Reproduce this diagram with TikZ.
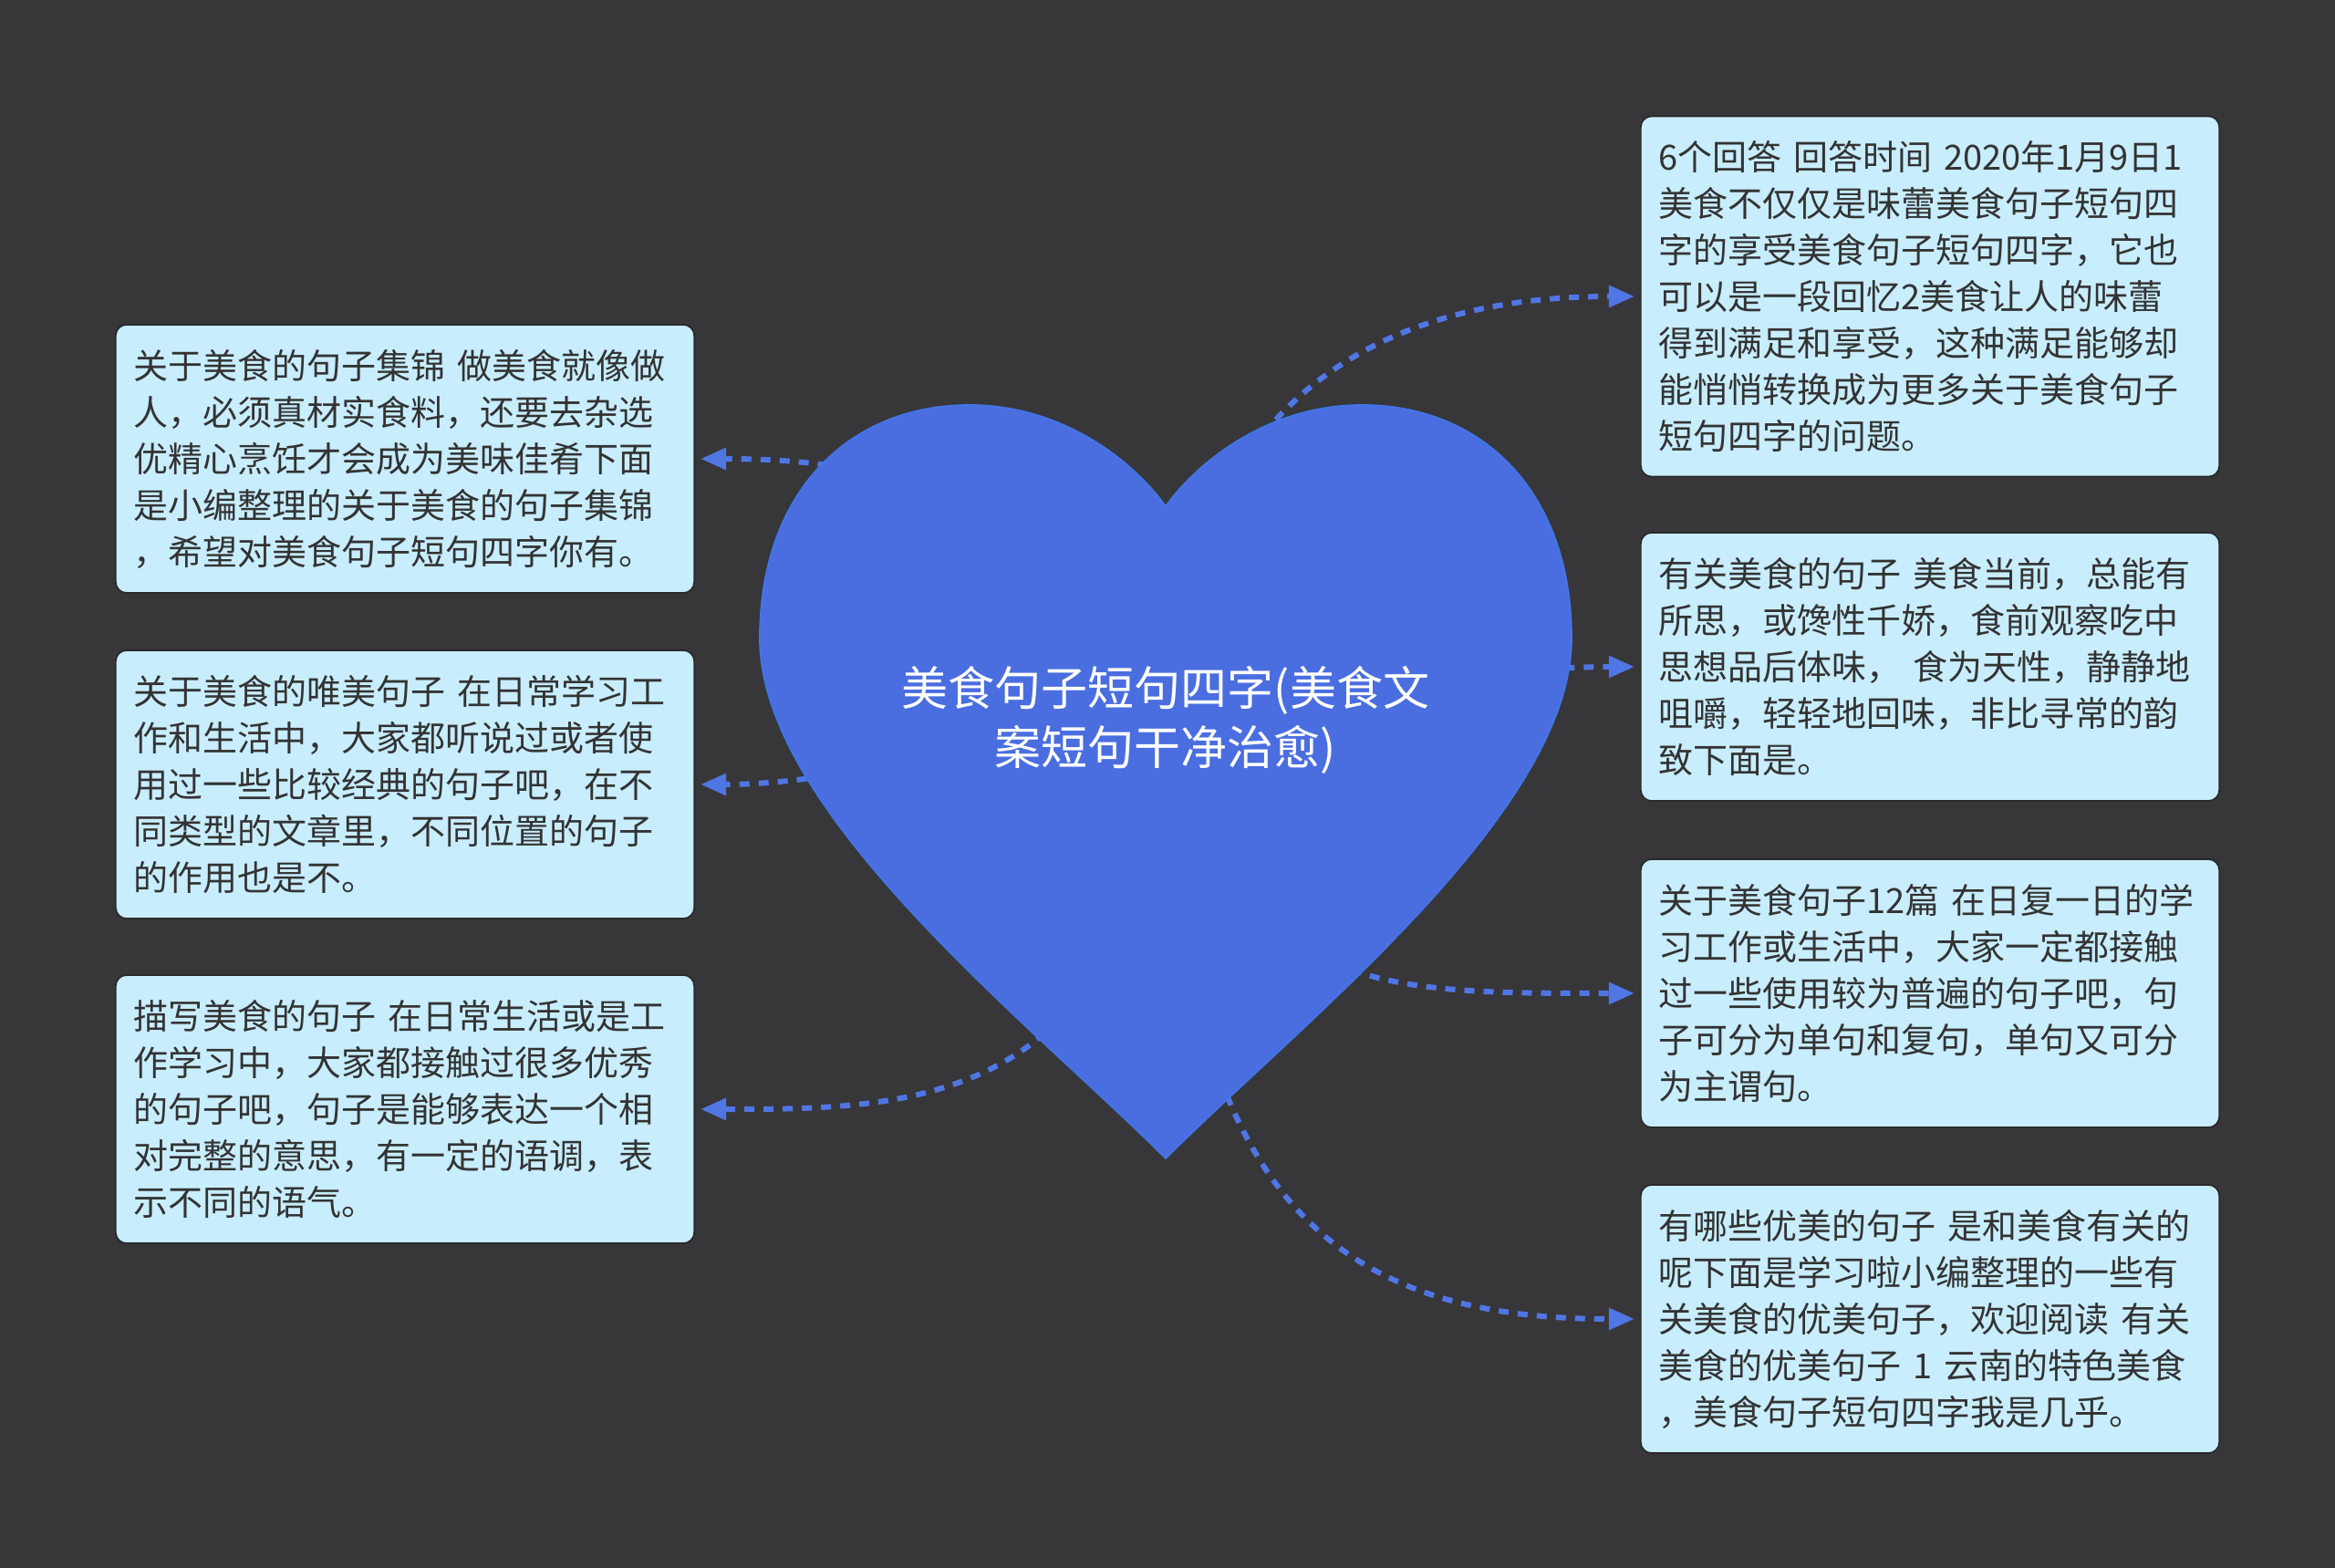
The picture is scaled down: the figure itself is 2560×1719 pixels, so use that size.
\documentclass[tikz,border=0pt]{standalone}
\usepackage{fontspec}
\setmainfont{Noto Sans CJK SC}
\usetikzlibrary{arrows.meta}
\definecolor{bg}{HTML}{373639}
\definecolor{hrt}{HTML}{4A6EE0}
\definecolor{hrtedge}{HTML}{4276E6}
\definecolor{lnk}{HTML}{5076E4}
\definecolor{lt}{HTML}{C8EDFC}
\definecolor{edge}{HTML}{2A292C}
\definecolor{txt}{HTML}{333333}
\tikzset{
  card/.style={draw=edge,line width=0.5pt,fill=lt,rounded corners=0.12cm,text=txt,align=left,
    text width=5.94cm,inner xsep=0.2cm,inner ysep=0.1cm,minimum height=2.94cm,
    font=\fontsize{10.8pt}{14.5pt}\selectfont},
  tallcard/.style={card,minimum height=3.95cm},
  link/.style={draw=lnk,line width=0.06cm,dash pattern=on 0.11cm off 0.1cm,
    -{Triangle[length=0.28cm,width=0.23cm]},shorten >=0.06cm},
}

\begin{document}
\begin{tikzpicture}[x=0.01cm,y=-0.01cm]
  \useasboundingbox (0,0) rectangle (2560,1719);
  \fill[bg] (0,0) rectangle (2560,1719);
  \coordinate (ctr) at (1278,789);
  \node[card] (l1) at (444,503) {关于美食的句子集锦 做美食就像做\\人，必须真材实食料，还要去杂选\\优精心烹饪才会成为美味佳肴下面\\是小编整理的关于美食的句子集锦\\，希望对美食句子短句四字你有。};
  \node[card] (l2) at (444,860) {关于美食的唯美句子 在日常学习工\\作和生活中，大家都听说过或者使\\用过一些比较经典的句子吧，在不\\同类型的文章里，不同位置的句子\\的作用也是不。};
  \node[card] (l3) at (444,1216) {描写美食的句子 在日常生活或是工\\作学习中，大家都接触过很多优秀\\的句子吧，句子是能够表达一个相\\对完整的意思，有一定的语调，表\\示不同的语气。};
  \node[tallcard] (r1) at (2116,325) {6个回答 回答时间 2020年1月9日1\\美食不仅仅是味蕾美食句子短句四\\字的享受美食句子短句四字，它也\\可以是一段回忆2美食让人的味蕾\\得到满足和享受，这种满足能够却\\能悄悄转换成为更多关于美食句子\\短句四字的问题。};
  \node[card] (r2) at (2116,731) {有关美食的句子 美食当前，总能有\\所思，或馋性千娇，食前观察吃中\\思想品后体味， 食为天性，静静地\\咀嚼，轻轻地回味，非比寻常的韵\\致下面是。};
  \node[card] (r3) at (2116,1089) {关于美食句子12篇 在日复一日的学\\习工作或生活中，大家一定都接触\\过一些使用较为普遍的句子吧，句\\子可分为单句和复句，单句又可分\\为主谓句。};
  \node[card] (r4) at (2116,1446) {有哪些优美的句子 是和美食有关的\\呢下面是学习啦小编整理的一些有\\关美食的优美句子，欢迎阅读 有关\\美食的优美句子 1 云南的特色美食\\，美食句子短句四字我是几乎。};
  \draw[link] (ctr) .. controls +(-128,-229) and +(239,0) .. (l1.east);
  \draw[link] (ctr) .. controls +(-128,0) and +(189,0) .. (l2.east);
  \draw[link] (ctr) .. controls +(-28,427) and +(239,0) .. (l3.east);
  \draw[link] (ctr) .. controls +(22,-339) and +(-299,0) .. (r1.west);
  \draw[link] (ctr) .. controls +(122,0) and +(-199,0) .. (r2.west);
  \draw[link] (ctr) .. controls +(82,300) and +(-299,0) .. (r3.west);
  \draw[link] (ctr) .. controls +(12,511) and +(-349,0) .. (r4.west);
  \filldraw[fill=hrt,draw=hrtedge,line width=0.5pt] (1278,555)
    .. controls (1238,500) and (1160,444) .. (1063,444)
    .. controls (930,444) and (833,540) .. (833,700)
    .. controls (833,890) and (1130,1122) .. (1278,1270)
    .. controls (1426,1122) and (1723,890) .. (1723,700)
    .. controls (1723,540) and (1626,444) .. (1493,444)
    .. controls (1396,444) and (1318,500) .. (1278,555) -- cycle;
  \node[text=white,align=center,font=\fontsize{14.5pt}{18.5pt}\selectfont] (title) at (ctr) {美食句子短句四字(美食文\\案短句干净治愈)};
\end{tikzpicture}
\end{document}
